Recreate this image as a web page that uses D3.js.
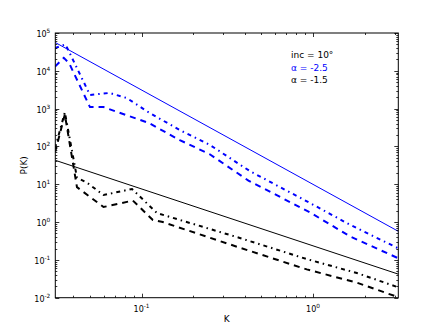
<!DOCTYPE html>
<html>
<head>
<meta charset="utf-8">
<style>
  body { margin: 0; background: #fff; }
  svg text { font-family: "DejaVu Sans", sans-serif; fill: #000; }
</style>
<script src="https://d3js.org/d3.v7.min.js"></script>
</head>
<body>
<svg id="vis"></svg>
<script>
  var width = 443,
    height = 332,
    margin = {left: 55.3, right: 44.7, top: 33, bottom: 34.3};

  // data -------------------------------------------------
  var kDomain = [0.0314, 3.1416],
    pDomain = [1e-2, 1e5],
    xTickExps = [-1, 0],
    yTickExps = [-2, -1, 0, 1, 2, 3, 4, 5];

  // power law guides (end points)
  var fitSteepK = [0.0314, 3.1416],
    fitSteepP = [5.6e4, 0.57],
    fitShallowK = [0.0314, 3.1416],
    fitShallowP = [43, 0.042];

  // alpha = -2.5 spectra
  var steepDashK = [0.0313, 0.0352, 0.0378, 0.050, 0.060, 0.072, 0.110, 0.167, 0.25, 0.42, 0.96, 1.64, 3.12],
    steepDashP = [1.3e4, 2.2e4, 1.6e4, 1100, 1100, 820, 420, 147, 62, 12.5, 1.8, 0.42, 0.112],
    steepDotK = [0.0313, 0.0360, 0.050, 0.065, 0.082, 0.110, 0.167, 0.25, 0.43, 0.96, 1.64, 3.12],
    steepDotP = [4.0e4, 5.0e4, 2300, 2600, 1900, 800, 270, 110, 22, 3.2, 0.85, 0.205];

  // alpha = -1.5 spectra
  var shallowDashK = [0.0313, 0.0357, 0.042, 0.060, 0.089, 0.1164, 0.133, 0.374, 0.919, 1.8, 3.12],
    shallowDashP = [70, 700, 8.4, 2.5, 3.7, 1.13, 1.0, 0.21, 0.056, 0.025, 0.0104],
    shallowDotK = [0.0313, 0.0357, 0.042, 0.048, 0.060, 0.088, 0.123, 0.374, 0.919, 1.8, 3.12],
    shallowDotP = [90, 800, 15, 11, 5.2, 7.5, 1.73, 0.38, 0.105, 0.045, 0.019];

  var legendLines = [
    {text: "inc = 10°", color: "#000"},
    {text: "α = -2.5", color: "#0000ff"},
    {text: "α = -1.5", color: "#000"}
  ];

  // scales -------------------------------------------------
  var svg = d3.select("#vis")
    .attr("width", width)
    .attr("height", height)
    .style("background", "#fff");

  var x0 = margin.left, x1 = width - margin.right,
    y0 = margin.top, y1 = height - margin.bottom;

  var xscale = d3.scaleLog().domain(kDomain).range([x0, x1]);
  var yscale = d3.scaleLog().domain(pDomain).range([y1, y0]);

  function zip(ks, ps) {
    return ks.map(function(k, i) { return [k, ps[i]]; });
  }

  var line = d3.line()
    .x(function(d) { return xscale(d[0]); })
    .y(function(d) { return yscale(d[1]); });

  var plot = svg.append("g");
  plot.append("clipPath").attr("id", "clip")
    .append("rect").attr("x", x0).attr("y", y0)
    .attr("width", x1 - x0).attr("height", y1 - y0);

  var series = [
    {data: zip(fitSteepK, fitSteepP), color: "#0000ff", w: 1, dash: null},
    {data: zip(fitShallowK, fitShallowP), color: "#000", w: 1, dash: null},
    {data: zip(steepDotK, steepDotP), color: "#0000ff", w: 2, dash: "4,4,1.5,4"},
    {data: zip(steepDashK, steepDashP), color: "#0000ff", w: 2, dash: "6,5"},
    {data: zip(shallowDotK, shallowDotP), color: "#000", w: 2, dash: "4,4,1.5,4"},
    {data: zip(shallowDashK, shallowDashP), color: "#000", w: 2, dash: "6,5"}
  ];

  plot.selectAll("path.series")
    .data(series)
    .enter().append("path")
    .attr("class", "series")
    .attr("clip-path", "url(#clip)")
    .attr("d", function(d) { return line(d.data); })
    .style("fill", "none")
    .style("stroke", function(d) { return d.color; })
    .style("stroke-width", function(d) { return d.w; })
    .style("stroke-dasharray", function(d) { return d.dash; });

  // ticks -------------------------------------------------
  function logTicks(domain) {
    var out = [];
    var lo = Math.floor(Math.log10(domain[0])), hi = Math.ceil(Math.log10(domain[1]));
    for (var e = lo; e <= hi; e++) {
      for (var m = 1; m < 10; m++) {
        var v = m * Math.pow(10, e);
        if (v >= domain[0] * 0.999 && v <= domain[1] * 1.001) out.push({v: v, major: m === 1});
      }
    }
    return out;
  }

  var ticks = svg.append("g").style("stroke", "#000").style("stroke-width", 0.8);
  logTicks(kDomain).forEach(function(t) {
    var x = Math.round(xscale(t.v)) + 0.5, len = t.major ? 4 : 2;
    ticks.append("line").attr("x1", x).attr("x2", x).attr("y1", y1).attr("y2", y1 - len);
    ticks.append("line").attr("x1", x).attr("x2", x).attr("y1", y0).attr("y2", y0 + len);
  });
  logTicks(pDomain).forEach(function(t) {
    var y = Math.round(yscale(t.v)) + 0.5, len = t.major ? 4 : 2;
    ticks.append("line").attr("y1", y).attr("y2", y).attr("x1", x0).attr("x2", x0 + len);
    ticks.append("line").attr("y1", y).attr("y2", y).attr("x1", x1).attr("x2", x1 - len);
  });

  // frame
  svg.append("rect")
    .attr("x", x0).attr("y", y0)
    .attr("width", x1 - x0).attr("height", y1 - y0)
    .style("fill", "none").style("stroke", "#000").style("stroke-width", 1);

  // tick labels
  function powLabel(sel, e) {
    sel.append("tspan").text("10").style("font-size", "8px");
    sel.append("tspan").text(e < 0 ? "-" + (-e) : e)
      .attr("dy", -4).style("font-size", "5.8px");
  }

  svg.selectAll("text.ylab")
    .data(yTickExps)
    .enter().append("text")
    .attr("class", "ylab")
    .attr("x", x0 - 5)
    .attr("y", function(e) { return yscale(Math.pow(10, e)) + 4; })
    .attr("text-anchor", "end")
    .each(function(e) { powLabel(d3.select(this), e); });

  svg.selectAll("text.xlab")
    .data(xTickExps)
    .enter().append("text")
    .attr("class", "xlab")
    .attr("x", function(e) { return xscale(Math.pow(10, e)); })
    .attr("y", y1 + 14)
    .attr("text-anchor", "middle")
    .each(function(e) { powLabel(d3.select(this), e); });

  // axis titles
  svg.append("text")
    .attr("x", (x0 + x1) / 2).attr("y", y1 + 24)
    .attr("text-anchor", "middle")
    .style("font-size", "9px")
    .text("K");

  svg.append("text")
    .attr("transform", "translate(27," + ((y0 + y1) / 2) + ") rotate(-90)")
    .attr("text-anchor", "middle")
    .style("font-size", "9px")
    .text("P(K)");

  // legend text
  svg.selectAll("text.legend")
    .data(legendLines)
    .enter().append("text")
    .attr("class", "legend")
    .attr("x", 291)
    .attr("y", function(d, i) { return 58 + i * 12.5; })
    .style("font-size", "9px")
    .style("fill", function(d) { return d.color; })
    .text(function(d) { return d.text; });
</script>
</body>
</html>
